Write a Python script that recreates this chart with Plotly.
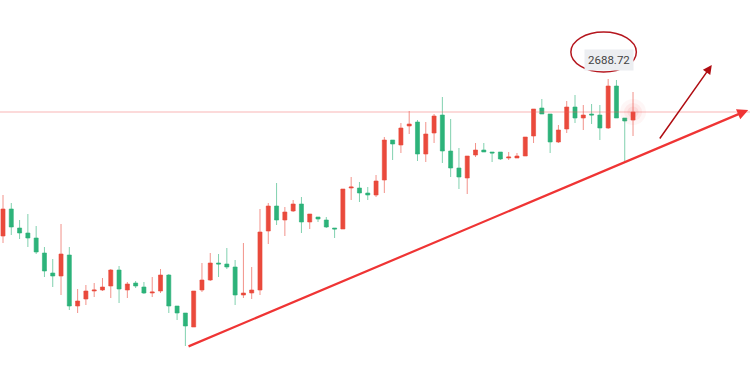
import plotly.graph_objects as go

# OHLC values (index points)
opens = [2531.72, 2558.72, 2539.72, 2534.72, 2529.72, 2514.72, 2494.72, 2491.72, 2512.72, 2461.72,
         2468.72, 2476.72, 2477.72, 2481.72, 2497.72, 2477.72, 2484.72, 2480.72, 2474.72, 2476.72,
         2492.72, 2461.72, 2454.72, 2440.72, 2477.72, 2487.72, 2504.72, 2503.72, 2500.72, 2472.72,
         2474.72, 2477.72, 2536.72, 2561.72, 2547.72, 2556.72, 2563.72, 2545.72, 2550.72, 2547.72,
         2539.72, 2538.72, 2579.72, 2579.72, 2574.72, 2572.72, 2587.72, 2627.72, 2622.72, 2641.72,
         2645.72, 2613.72, 2634.72, 2652.72, 2616.72, 2599.72, 2589.72, 2612.72, 2617.72, 2615.72,
         2615.72, 2609.72, 2609.72, 2611.72, 2631.72, 2659.72, 2653.72, 2625.72, 2638.72, 2660.72,
         2649.72, 2653.72, 2652.72, 2639.72, 2681.72, 2649.72, 2647.72]
highs = [2572.72, 2564.72, 2547.72, 2553.72, 2541.72, 2520.72, 2508.72, 2543.72, 2520.72, 2478.72,
         2482.72, 2484.72, 2489.72, 2498.72, 2501.72, 2485.72, 2486.72, 2485.72, 2490.72, 2498.72,
         2493.72, 2461.72, 2454.72, 2476.72, 2504.72, 2514.72, 2513.72, 2519.72, 2507.72, 2524.72,
         2500.72, 2558.72, 2564.72, 2584.72, 2560.72, 2567.72, 2570.72, 2553.72, 2550.72, 2550.72,
         2539.72, 2578.72, 2590.72, 2585.72, 2580.72, 2592.72, 2630.72, 2627.72, 2644.72, 2656.72,
         2647.72, 2645.72, 2653.72, 2670.72, 2648.72, 2619.72, 2611.72, 2624.72, 2624.72, 2615.72,
         2615.72, 2615.72, 2614.72, 2630.72, 2658.72, 2668.72, 2653.72, 2642.72, 2666.72, 2672.72,
         2662.72, 2663.72, 2662.72, 2688.72, 2687.72, 2649.72, 2675.72]
lows = [2524.72, 2532.72, 2528.72, 2520.72, 2513.72, 2490.72, 2480.72, 2472.72, 2457.72, 2454.72,
        2462.72, 2470.72, 2476.72, 2469.72, 2464.72, 2469.72, 2479.72, 2473.72, 2470.72, 2474.72,
        2454.72, 2447.72, 2421.72, 2440.72, 2475.72, 2486.72, 2490.72, 2498.72, 2462.72, 2469.72,
        2468.72, 2472.72, 2523.72, 2542.72, 2531.72, 2555.72, 2534.72, 2538.72, 2545.72, 2539.72,
        2529.72, 2538.72, 2567.72, 2565.72, 2567.72, 2570.72, 2574.72, 2607.72, 2614.72, 2633.72,
        2606.72, 2605.72, 2624.72, 2604.72, 2590.72, 2578.72, 2573.72, 2610.72, 2615.72, 2605.72,
        2607.72, 2607.72, 2609.72, 2611.72, 2624.72, 2653.72, 2614.72, 2624.72, 2634.72, 2644.72,
        2637.72, 2643.72, 2627.72, 2638.72, 2649.72, 2606.72, 2631.72]
closes = [2558.72, 2540.72, 2534.72, 2529.72, 2515.72, 2496.72, 2491.72, 2513.72, 2461.72, 2466.72,
          2476.72, 2477.72, 2480.72, 2497.72, 2478.72, 2483.72, 2481.72, 2474.72, 2475.72, 2492.72,
          2461.72, 2454.72, 2441.72, 2476.72, 2487.72, 2504.72, 2503.72, 2500.72, 2472.72, 2474.72,
          2477.72, 2535.72, 2561.72, 2547.72, 2555.72, 2563.72, 2545.72, 2553.72, 2548.72, 2540.72,
          2538.72, 2578.72, 2580.72, 2574.72, 2572.72, 2586.72, 2627.72, 2623.72, 2639.72, 2643.72,
          2613.72, 2633.72, 2651.72, 2616.72, 2599.72, 2590.72, 2611.72, 2617.72, 2615.72, 2614.72,
          2608.72, 2610.72, 2611.72, 2630.72, 2658.72, 2653.72, 2625.72, 2637.72, 2660.72, 2649.72,
          2652.72, 2652.72, 2639.72, 2681.72, 2649.72, 2646.72, 2655.72]
x_idx = list(range(len(opens)))

label_text = "2688.72"
last_price = closes[-1]

# Annotation geometry (data coordinates)
trend_start = (22.2, 2420.7)
trend_end = (89.9, 2657.7)
arrow2_start = (79.1, 2627.7)
arrow2_end = (85.5, 2702.7)
ellipse_box = (68.5, 2695.7, 76.4, 2735.7)
label_pos = (73.1, 2707.7)

RED = "#ea4a3c"
GREEN = "#2db37a"

fig = go.Figure()

# soft glow at last candle
for size, alpha in [(26, 0.05), (18, 0.07), (11, 0.09)]:
    fig.add_trace(go.Scatter(x=[x_idx[-1]], y=[last_price], mode="markers",
                             marker=dict(size=size, color=f"rgba(240,70,70,{alpha})", line=dict(width=0)),
                             showlegend=False, hoverinfo="skip"))

fig.add_trace(go.Candlestick(
    x=x_idx, open=opens, high=highs, low=lows, close=closes,
    increasing=dict(line=dict(color="rgba(234,74,60,0.6)", width=1), fillcolor=RED),
    decreasing=dict(line=dict(color="rgba(45,179,122,0.6)", width=1), fillcolor=GREEN),
    whiskerwidth=0, showlegend=False, hoverinfo="skip",
))

fig.add_hline(y=last_price, line=dict(color="rgba(240,90,90,0.45)", width=1))

fig.add_shape(type="circle", xref="x", yref="y",
              x0=ellipse_box[0], y0=ellipse_box[1], x1=ellipse_box[2], y1=ellipse_box[3],
              line=dict(color="#b5161e", width=1.5))

fig.add_annotation(x=label_pos[0], y=label_pos[1], text=label_text, showarrow=False,
                   font=dict(family="Roboto, Arial", size=11.5, color="#444"),
                   bgcolor="#eceef1", borderpad=3)

fig.add_annotation(x=trend_end[0], y=trend_end[1], ax=trend_start[0], ay=trend_start[1],
                   xref="x", yref="y", axref="x", ayref="y", text="",
                   showarrow=True, arrowhead=2, arrowsize=1, arrowwidth=2.2, arrowcolor="#ef3434")
fig.add_annotation(x=arrow2_end[0], y=arrow2_end[1], ax=arrow2_start[0], ay=arrow2_start[1],
                   xref="x", yref="y", axref="x", ayref="y", text="",
                   showarrow=True, arrowhead=2, arrowsize=1.2, arrowwidth=1.5, arrowcolor="#b00d12")

fig.update_layout(
    width=750, height=383, margin=dict(l=0, r=0, t=0, b=0),
    paper_bgcolor="white", plot_bgcolor="white",
    xaxis=dict(range=[-0.362, 90.11], visible=False, rangeslider=dict(visible=False), fixedrange=True),
    yaxis=dict(range=[2384.72, 2767.72], visible=False, fixedrange=True),
)

fig.write_html("out.html")
